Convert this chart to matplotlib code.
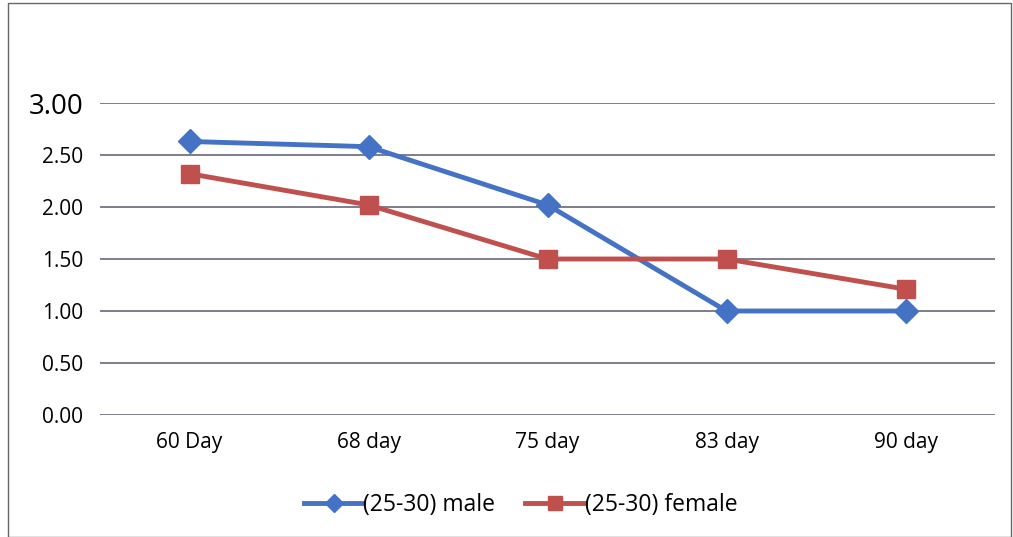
import numpy as np
import matplotlib.pyplot as plt

days = ['60 Day', '68 day', '75 day', '83 day', '90 day']
male = [2.63, 2.58, 2.02, 1.00, 1.00]
female = [2.32, 2.02, 1.50, 1.50, 1.21]
yticks = [0.0, 0.5, 1.0, 1.5, 2.0, 2.5, 3.0]

plt.rcParams['font.family'] = ['Open Sans', 'DejaVu Sans']

fig = plt.figure(figsize=(10.13, 5.37), dpi=100)
ax = fig.add_axes([100/1013, 1 - 415/537, 895/1013, 312/537])

x = np.arange(len(days))
ax.plot(x, male, color='#4472C4', lw=3.5, marker='D', ms=12,
        label='(25-30) male', zorder=3)
ax.plot(x, female, color='#C0504D', lw=3.5, marker='s', ms=13,
        label='(25-30) female', zorder=3)

ax.set_xlim(-0.5, len(days) - 0.5)
ax.set_ylim(0, 3)
ax.set_yticks(yticks)
ax.set_yticklabels(['%.2f' % v for v in yticks], fontsize=15)
ax.set_xticks(x)
ax.set_xticklabels(days, fontsize=15)
ax.tick_params(length=0)
ax.tick_params(axis='y', pad=12)
ax.tick_params(axis='x', pad=12)
lab = ax.get_yticklabels()[-1]
lab.set_fontsize(20)
ax.grid(axis='y', color='#5a5a6e', lw=1.1)
ax.set_axisbelow(True)
for s in ax.spines.values():
    s.set_visible(False)

ax.legend(loc='center', bbox_to_anchor=(0.47, -0.29),
          ncol=2, frameon=False, fontsize=16.5, handlelength=2.6,
          columnspacing=1.3, handletextpad=0.0, markerscale=0.75)

fig.patches.append(plt.Rectangle((0.008, 0.0), 0.99, 0.995, transform=fig.transFigure,
                                 fill=False, ec='#666666', lw=1))

fig.savefig('out.png', dpi=100)
